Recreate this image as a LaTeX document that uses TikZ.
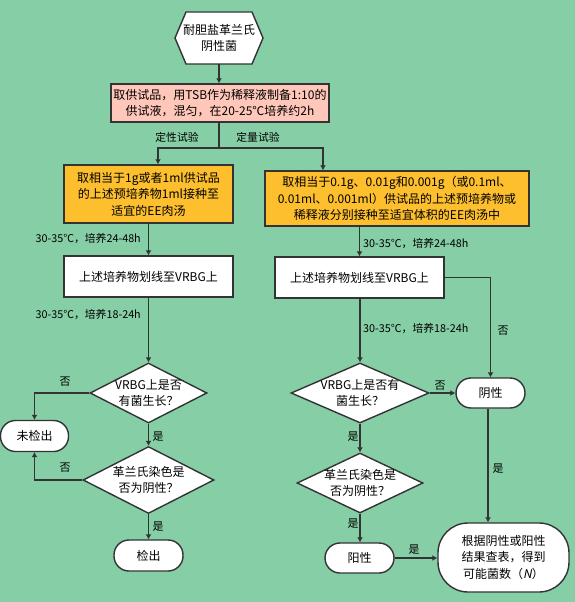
\documentclass[tikz,border=0pt]{standalone}
\usepackage{fontspec}
\setmainfont{Noto Sans CJK SC}
\newfontfamily\slfont{Noto Sans CJK SC}[FakeSlant=0.2]
\usetikzlibrary{shapes.geometric,arrows.meta}
\definecolor{bg}{RGB}{134,206,166}
\definecolor{pinkbox}{RGB}{255,199,186}
\definecolor{orangebox}{RGB}{253,191,45}
\definecolor{ln}{RGB}{51,51,51}
\begin{document}
\begin{tikzpicture}[x=1pt,y=-1pt,
  every node/.style={font=\fontsize{12pt}{16.5pt}\selectfont, text=black, inner sep=1pt, align=center},
  box/.style={draw=ln, line width=1.4pt, rectangle},
  whitebox/.style={box, fill=white},
  orbox/.style={box, fill=orangebox},
  decision/.style={draw=ln, line width=1.4pt, fill=white, diamond, inner sep=0pt},
  term/.style={draw=ln, line width=1.4pt, fill=white, rectangle, rounded corners=15pt},
  arr/.style={draw=ln, line width=1.4pt, -{Latex[length=5pt,width=6pt]}},
  ln/.style={draw=ln, line width=1.4pt},
  lab/.style={font=\fontsize{10.8pt}{13pt}\selectfont, inner sep=0pt},
  yn/.style={font=\fontsize{11pt}{13pt}\selectfont, inner sep=0pt}]
\useasboundingbox (0,0) rectangle (575,602);
\fill[bg] (0,0) rectangle (575,602);

% start hexagon
\coordinate (sc) at (219,38);
\draw[ln, fill=white, line join=miter] ([xshift=-44pt]sc) -- ([shift={(-33,-26)}]sc) -- ([shift={(33,-26)}]sc)
  -- ([xshift=44pt]sc) -- ([shift={(33,26)}]sc) -- ([shift={(-33,26)}]sc) -- cycle;
\node[minimum width=88pt, minimum height=52pt] (start) at (sc) {耐胆盐革兰氏\\阴性菌};

\node[box, fill=pinkbox, minimum width=218pt, minimum height=38pt] (pink) at (220,103)
  {取供试品，用TSB作为稀释液制备1:10的\\供试液，混匀，在20-25℃培养约2h};

% left branch
\node[orbox, minimum width=169pt, minimum height=58pt] (q1) at (148.5,194)
  {取相当于1g或者1ml供试品\\的上述预培养物1ml接种至\\适宜的EE肉汤};
\node[whitebox, minimum width=169pt, minimum height=41pt] (w1) at (148.5,276.5) {上述培养物划线至VRBG上};
\node[decision, minimum width=117pt, minimum height=60pt, label=center:{VRBG上是否\\有菌生长？}] (d1) at (148.5,393) {};
\node[decision, minimum width=131pt, minimum height=67pt, label=center:{革兰氏染色是\\否为阴性？}] (d2) at (148.5,480) {};
\node[term, minimum width=68pt, minimum height=31pt] (nd) at (34.5,436) {未检出};
\node[term, minimum width=69pt, minimum height=31pt] (det) at (148.5,555.5) {检出};

% right branch
\node[orbox, minimum width=264pt, minimum height=55pt] (q2) at (397,198.5)
  {取相当于0.1g、0.01g和0.001g（或0.1ml、\\0.01ml、0.001ml）供试品的上述预培养物或\\稀释液分别接种至适宜体积的EE肉汤中};
\node[whitebox, minimum width=169pt, minimum height=41pt] (w2) at (359.5,277.5) {上述培养物划线至VRBG上};
\node[decision, minimum width=138pt, minimum height=60pt, label=center:{VRBG上是否有\\菌生长？}] (d3) at (360,393) {};
\node[decision, minimum width=126pt, minimum height=60pt, label=center:{革兰氏染色是\\否为阴性？}] (d4) at (360,483) {};
\node[term, minimum width=69pt, minimum height=30pt] (neg) at (490.5,393) {阴性};
\node[term, minimum width=69pt, minimum height=30pt] (pos) at (359.5,558) {阳性};
\node[term, rounded corners=30pt, minimum width=131pt, minimum height=69pt] (res) at (503.5,557.5)
  {根据阴性或阳性\\结果查表，得到\\可能菌数（{\slfont N}）};

% connectors
\draw[arr] (start.south) -- (start.south |- pink.north);
\coordinate (split) at (219,148);
\draw[ln] (pink.south -| split) -- (split);
\draw[arr] (split) -| ([xshift=9.5pt]q1.north);
\draw[arr] (split) -| ([xshift=-74pt]q2.north);
\node[lab] (l1) at (177,137) {定性试验};
\node[lab] (l2) at (258,137) {定量试验};

\draw[arr] (q1.south) -- (w1.north);
\node[lab, anchor=east] (l3) at (141,238) {30-35℃，培养24-48h};
\draw[arr] (w1.south) -- (d1.north);
\node[lab, anchor=east] (l4) at (141,314) {30-35℃，培养18-24h};
\draw[arr] (d1.west) -| (nd.north);
\node[yn] (l5) at (65,382) {否};
\draw[arr] (d1.south) -- (d2.north);
\node[yn] (l6) at (158,437) {是};
\draw[arr] (d2.west) -| (nd.south);
\node[yn] (l7) at (65,468) {否};
\draw[arr] (d2.south) -- (det.north);
\node[yn] (l8) at (158,527) {是};

\draw[arr] (w2.north |- q2.south) -- (w2.north);
\node[lab, anchor=west] (l9) at (363,243) {30-35℃，培养24-48h};
\draw[arr] (w2.south -| d3.north) -- (d3.north);
\node[lab, anchor=west] (l10) at (363,328) {30-35℃，培养18-24h};
\draw[arr] (w2.east) -| (neg.north);
\node[yn] (l11) at (503,331) {否};
\draw[arr] (d3.east) -- (neg.west);
\node[yn] (l12) at (440,386) {否};
\draw[arr] (d3.south) -- (d4.north);
\node[yn] (l13) at (353,437) {是};
\draw[arr] (d4.south) -- (d4.south |- pos.north);
\node[yn] (l14) at (353,524) {是};
\draw[arr] (pos.east) -- (pos.east -| res.west);
\node[yn] (l15) at (414,550) {是};
\draw[arr] ([xshift=-2.5pt]neg.south) -- ([xshift=-2.5pt]neg.south |- res.north);
\node[yn] (l16) at (498,469) {是};
\end{tikzpicture}
\end{document}
